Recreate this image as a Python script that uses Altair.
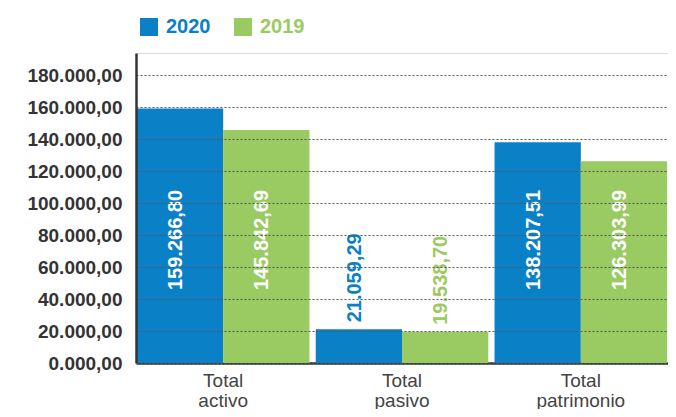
import altair as alt
import pandas as pd

categories = ["Total activo", "Total pasivo", "Total patrimonio"]
series = ["2020", "2019"]
values_2020 = [159266.80, 21059.29, 138207.51]
values_2019 = [145842.69, 19538.70, 126303.99]
y_ticks = [0, 20000, 40000, 60000, 80000, 100000, 120000, 140000, 160000, 180000]

BLUE = "#0a80c6"
GREEN = "#9aca62"


def fmt(v):
    s = f"{v:,.2f}"
    return s.replace(",", "X").replace(".", ",").replace("X", ".")


rows = []
for i, c in enumerate(categories):
    for s, vals in (("2020", values_2020), ("2019", values_2019)):
        rows.append({"cat": c, "serie": s, "value": vals[i], "label": fmt(vals[i])})
df = pd.DataFrame(rows)

FONT = "Liberation Sans"

x = alt.X("cat:N", sort=categories, scale=alt.Scale(paddingInner=0.035, paddingOuter=0.005),
          axis=alt.Axis(title=None, labelExpr="split(datum.label, ' ')", labelAngle=0,
                        labelFontSize=19, labelLineHeight=20, labelColor="#444444",
                        labelFont=FONT, labelPadding=8, ticks=False,
                        domainColor="#333333", domainWidth=2.5))
xo = alt.XOffset("serie:N", sort=series, scale=alt.Scale(paddingInner=0, paddingOuter=0))
color = alt.Color("serie:N", sort=series, scale=alt.Scale(domain=series, range=[BLUE, GREEN]),
                  legend=alt.Legend(title=None, orient="none", legendX=3, legendY=-36,
                                    direction="horizontal", symbolType="square",
                                    symbolSize=324, symbolStrokeWidth=0, labelFontSize=20,
                                    labelFontWeight="bold", labelFont=FONT, labelOffset=7,
                                    columnPadding=22,
                                    labelColor={"expr": "datum.label == '2020' ? '%s' : '%s'" % (BLUE, GREEN)}))

y = alt.Y("value:Q", scale=alt.Scale(domain=[0, 194000], nice=False),
          axis=alt.Axis(title=None, values=y_ticks, tickCount=20, labelOverlap=False,
                        labelExpr="datum.value == 0 ? '0.000,00' : format(datum.value/1000, 'd') + '.000,00'",
                        labelFontSize=19, labelFontWeight="bold", labelColor="#333333",
                        labelFont=FONT, labelPadding=14, ticks=False,
                        grid=True, gridDash=[2, 2], gridColor="#555555", gridWidth=1,
                        domainColor="#333333", domainWidth=2.5, zindex=1))

base = alt.Chart(df)

bars = base.mark_bar(opacity=1).encode(x=x, xOffset=xo, y=y, color=color)

inside = base.transform_filter("datum.value > 50000").mark_text(
    angle=270, align="left", baseline="middle", fontSize=20, fontWeight="bold",
    font=FONT, color="white", dy=-4
).encode(x=alt.X("cat:N", sort=categories), xOffset=xo, y=alt.value(237), text="label:N")

outside = base.transform_filter("datum.value <= 50000").mark_text(
    angle=270, align="left", baseline="middle", fontSize=20, fontWeight="bold",
    font=FONT, dx=7, dy=-4
).encode(x=alt.X("cat:N", sort=categories), xOffset=xo, y=alt.Y("value:Q"),
         text="label:N",
         color=alt.Color("serie:N", sort=series, scale=alt.Scale(domain=series, range=[BLUE, GREEN]), legend=None))

chart = alt.layer(bars, inside, outside).properties(
    width=532, height=310,
    autosize=alt.AutoSizeParams(type="none"),
    padding={"left": 128, "top": 45, "right": 0, "bottom": 46},
).configure_view(stroke=None).configure(background="white")

chart.save("out.html", embed_options={"renderer": "svg", "actions": False})
